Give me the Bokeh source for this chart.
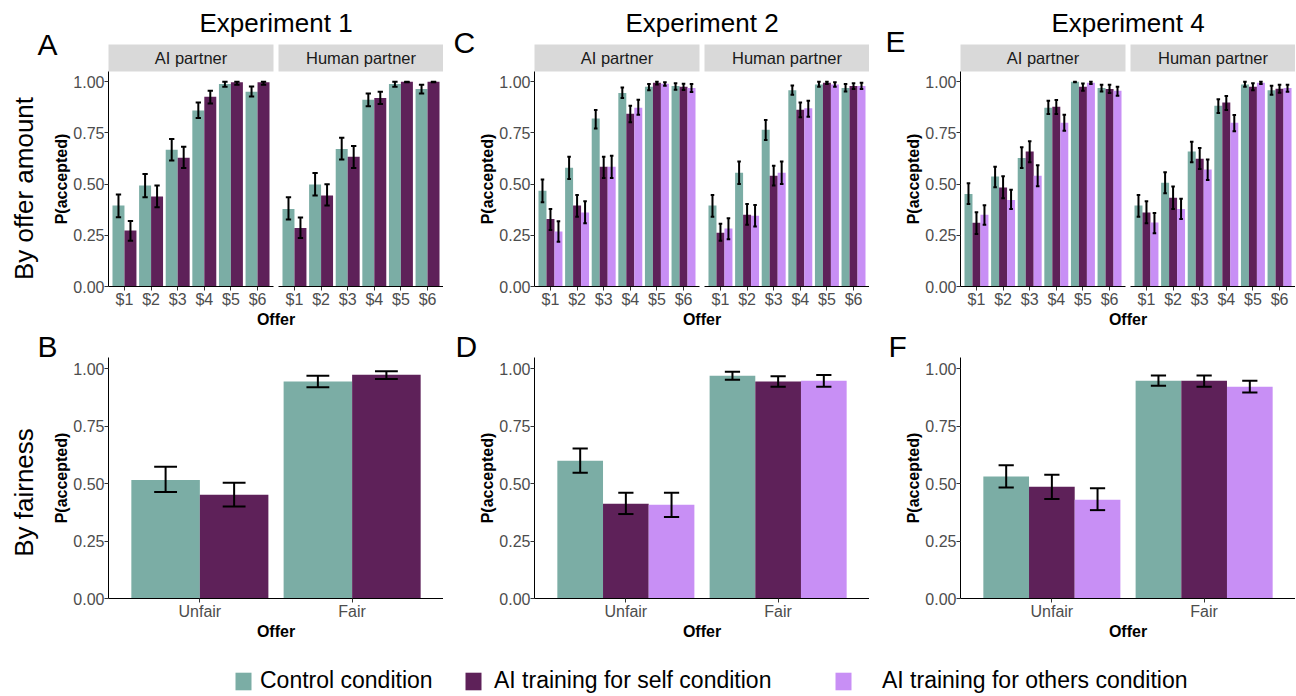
import math
from bokeh.plotting import figure
from bokeh.layouts import column, row
from bokeh.models import (FixedTicker, PrintfTickFormatter, Label, Legend, LegendItem,
                          Range1d, CustomJSTickFormatter, LinearAxis)
from bokeh.embed import file_html
from bokeh.resources import INLINE
from bokeh.core.properties import value

# ---------------- data ----------------
OFFER_LABELS = ["$1", "$2", "$3", "$4", "$5", "$6"]
PARTNERS = ["AI partner", "Human partner"]
FAIR_CATS = ["Unfair", "Fair"]
CONDITIONS = ["Control condition", "AI training for self condition", "AI training for others condition"]
COLORS = ["#7BADA5", "#5E2159", "#C88FF5"]
EXPERIMENTS = ["Experiment 1", "Experiment 2", "Experiment 4"]
TOP_LETTERS = ["A", "C", "E"]
BOTTOM_LETTERS = ["B", "D", "F"]
ROW_LABELS = ["By offer amount", "By fairness"]

# Experiment 1 (control, self)
E1_AI_MEAN = [[0.395, 0.493, 0.668, 0.859, 0.989, 0.951], [0.273, 0.439, 0.629, 0.927, 0.997, 0.997]]
E1_AI_LO = [[0.338, 0.436, 0.615, 0.823, 0.976, 0.928], [0.224, 0.387, 0.579, 0.894, 0.985, 0.985]]
E1_AI_HI = [[0.449, 0.550, 0.720, 0.899, 1.000, 0.977], [0.320, 0.493, 0.683, 0.956, 1.000, 1.000]]
E1_HU_MEAN = [[0.379, 0.498, 0.672, 0.912, 0.989, 0.964], [0.286, 0.444, 0.634, 0.920, 1.000, 1.000]]
E1_HU_LO = [[0.327, 0.444, 0.620, 0.880, 0.976, 0.943], [0.237, 0.395, 0.579, 0.891, 0.998, 0.998]]
E1_HU_HI = [[0.436, 0.554, 0.727, 0.943, 1.000, 0.985], [0.337, 0.499, 0.686, 0.951, 1.000, 1.000]]

# Experiment 2 (control, self, others)
E2_AI_MEAN = [[0.468, 0.580, 0.820, 0.945, 0.976, 0.979], [0.330, 0.395, 0.585, 0.844, 0.995, 0.976], [0.268, 0.361, 0.585, 0.873, 0.990, 0.969]]
E2_AI_LO = [[0.411, 0.525, 0.772, 0.920, 0.959, 0.961], [0.276, 0.341, 0.530, 0.802, 0.987, 0.960], [0.218, 0.309, 0.530, 0.839, 0.980, 0.950]]
E2_AI_HI = [[0.522, 0.634, 0.862, 0.972, 0.989, 0.993], [0.379, 0.447, 0.634, 0.883, 1.000, 0.990], [0.319, 0.416, 0.639, 0.912, 0.998, 0.989]]
E2_HU_MEAN = [[0.395, 0.556, 0.766, 0.959, 0.987, 0.969], [0.263, 0.351, 0.541, 0.863, 0.995, 0.979], [0.283, 0.345, 0.556, 0.870, 0.987, 0.979]]
E2_HU_LO = [[0.341, 0.500, 0.715, 0.937, 0.976, 0.952], [0.224, 0.302, 0.493, 0.826, 0.989, 0.964], [0.231, 0.293, 0.500, 0.829, 0.976, 0.964]]
E2_HU_HI = [[0.447, 0.610, 0.813, 0.982, 1.000, 0.989], [0.306, 0.403, 0.590, 0.899, 1.000, 0.993], [0.333, 0.398, 0.611, 0.907, 0.998, 0.995]]

# Experiment 4 (control, self, others)
E4_AI_MEAN = [[0.452, 0.537, 0.628, 0.873, 1.000, 0.969], [0.311, 0.483, 0.659, 0.878, 0.976, 0.964], [0.351, 0.423, 0.541, 0.800, 0.995, 0.956]]
E4_AI_LO = [[0.403, 0.485, 0.579, 0.842, 0.998, 0.952], [0.257, 0.431, 0.607, 0.842, 0.956, 0.945], [0.301, 0.379, 0.489, 0.761, 0.989, 0.932]]
E4_AI_HI = [[0.504, 0.585, 0.680, 0.907, 1.000, 0.985], [0.363, 0.538, 0.709, 0.911, 0.992, 0.985], [0.397, 0.473, 0.592, 0.839, 1.000, 0.976]]
E4_HU_MEAN = [[0.395, 0.507, 0.659, 0.883, 0.987, 0.959], [0.361, 0.434, 0.624, 0.898, 0.976, 0.966], [0.312, 0.379, 0.571, 0.800, 0.995, 0.969]]
E4_HU_LO = [[0.341, 0.455, 0.607, 0.847, 0.976, 0.937], [0.309, 0.379, 0.574, 0.862, 0.959, 0.946], [0.260, 0.330, 0.520, 0.758, 0.989, 0.951]]
E4_HU_HI = [[0.447, 0.558, 0.707, 0.915, 1.000, 0.980], [0.416, 0.488, 0.676, 0.930, 0.993, 0.985], [0.359, 0.428, 0.620, 0.837, 1.000, 0.985]]

# By fairness (Unfair, Fair) per condition
E1_FAIR_MEAN = [[0.516, 0.945], [0.452, 0.975]]
E1_FAIR_LO = [[0.464, 0.920], [0.401, 0.956]]
E1_FAIR_HI = [[0.574, 0.971], [0.504, 0.990]]
E2_FAIR_MEAN = [[0.600, 0.971], [0.413, 0.945], [0.408, 0.949]]
E2_FAIR_LO = [[0.548, 0.953], [0.368, 0.923], [0.355, 0.923]]
E2_FAIR_HI = [[0.654, 0.988], [0.461, 0.968], [0.461, 0.974]]
E4_FAIR_MEAN = [[0.531, 0.949], [0.487, 0.949], [0.430, 0.923]]
E4_FAIR_LO = [[0.484, 0.927], [0.433, 0.923], [0.385, 0.898]]
E4_FAIR_HI = [[0.581, 0.972], [0.539, 0.972], [0.480, 0.949]]

Y_TICKS = [0, 0.25, 0.5, 0.75, 1.0]

# ---------------- layout / styling ----------------
FONT = "Liberation Sans"
FACET_W = 165
GAP = 5
FRAME_W = 2 * FACET_W + GAP            # plot-panel width of one experiment
LEFT_PX = [108, 91, 91]                # space left of each experiment's y axis
LETTER_TOP_X = [-71, -81, -75]
LETTER_TOP_Y = [44, 42, 41]
LETTER_BOT_X = [-71, -79, -72]

TOP_H = 328           # top row figure height
TOP_ZERO = 286        # pixel row of y = 0 inside the top figure
TOP_PLOT_H = 215      # plotting panel (0 .. 1.05)
STRIP_H = 27
BOT_TOP = TOP_H       # page row where the bottom figures start
BOT_H = 318
BOT_ZERO = 598 - BOT_TOP
BOT_PLOT_H = 241
LEG_H = 50


def style_axes(p):
    xa, ya = p.xaxis[0], p.yaxis[0]
    for ax in (xa, ya):
        ax.axis_line_color = "black"
        ax.axis_line_width = 1
        ax.major_tick_line_color = "#333333"
        ax.major_tick_out = 4
        ax.major_tick_in = 0
        ax.minor_tick_line_color = None
        ax.major_label_text_font = FONT
        ax.major_label_text_font_size = "16px"
        ax.major_label_text_color = "#4d4d4d"
        ax.major_label_standoff = 0
        ax.axis_label_text_font = FONT
        ax.axis_label_text_font_size = "16px"
        ax.axis_label_text_font_style = "bold"
        ax.axis_label_text_color = "black"
        ax.axis_label_standoff = 0
    p.xgrid.visible = False
    p.ygrid.visible = False
    p.outline_line_color = None
    ya.ticker = FixedTicker(ticks=Y_TICKS)
    ya.formatter = PrintfTickFormatter(format="%.2f")
    ya.bounds = (0, 1.05)
    ya.fixed_location = 0.4
    xa.fixed_location = 0
    ya.axis_label = "P(accepted)"
    xa.axis_label = "Offer"
    return xa, ya


def facet_line(p, lo, hi):
    """A bare x-axis line under one facet (ggplot draws one per panel)."""
    ax = LinearAxis(fixed_location=0, bounds=(lo, hi), ticker=FixedTicker(ticks=[]),
                    axis_line_color="black", axis_line_width=1,
                    major_tick_line_color=None, minor_tick_line_color=None,
                    major_label_text_alpha=0)
    p.add_layout(ax, "below")


def draw_bars(p, xs_base, means, lo, hi, cap_total):
    n = len(means)
    bw = 0.9 / n
    cw = cap_total / n
    for c in range(n):
        off = -0.45 + bw * (c + 0.5)
        xs = [x + off for x in xs_base]
        p.vbar(x=xs, top=means[c], bottom=0, width=bw, fill_color=COLORS[c], line_color=None)
        p.segment(x0=xs, y0=lo[c], x1=xs, y1=hi[c], line_color="black", line_width=2)
        p.segment(x0=[x - cw / 2 for x in xs], y0=lo[c], x1=[x + cw / 2 for x in xs], y1=lo[c],
                  line_color="black", line_width=2)
        p.segment(x0=[x - cw / 2 for x in xs], y0=hi[c], x1=[x + cw / 2 for x in xs], y1=hi[c],
                  line_color="black", line_width=2)


def add_label(p, fig_h, x, y_from_top, text, size, angle=0.0, align="left"):
    p.add_layout(Label(x=x, y=fig_h - y_from_top, x_units="screen", y_units="screen", text=text,
                       angle=angle, text_font=FONT, text_font_size=size, text_color="black",
                       text_align=align, text_baseline="middle"))


def new_fig(width, height, x_range, y_range):
    return figure(width=width, height=height, x_range=x_range, y_range=y_range,
                  output_backend="svg", toolbar_location=None,
                  min_border_left=0, min_border_right=0, min_border_top=0, min_border_bottom=0)


def top_fig(k, ai_m, ai_lo, ai_hi, hu_m, hu_lo, hu_hi):
    lb = LEFT_PX[k]
    unit = FACET_W / 6.2
    shift = (FACET_W + GAP) / unit
    x_start = 0.4 - lb / unit
    x_end = 0.4 + FRAME_W / unit
    ppu = TOP_PLOT_H / 1.05
    p = new_fig(lb + FRAME_W, TOP_H, Range1d(x_start, x_end),
                Range1d(-(TOP_H - TOP_ZERO) / ppu, TOP_ZERO / ppu))
    xa, ya = style_axes(p)
    xa.bounds = (0.4, x_end)
    xa.axis_line_color = None
    strip_top = 1.05 + STRIP_H / ppu
    # facet strips
    p.quad(left=[0.4, 0.4 + shift], right=[6.6, 6.6 + shift], bottom=1.05, top=strip_top,
           fill_color="#d9d9d9", line_color=None)
    p.text(x=[3.5, 3.5 + shift], y=[(1.05 + strip_top) / 2] * 2, text=PARTNERS, text_align="center",
           text_baseline="middle", text_font=value(FONT), text_font_size="16.5px", text_color="#1a1a1a")
    base = list(range(1, 7))
    draw_bars(p, base, ai_m, ai_lo, ai_hi, 0.4)
    draw_bars(p, [b + shift for b in base], hu_m, hu_lo, hu_hi, 0.4)
    xa.ticker = FixedTicker(ticks=base + [b + shift for b in base])
    xa.formatter = CustomJSTickFormatter(args=dict(labels=OFFER_LABELS, shift=shift), code="""
        const k = tick > 6.7 ? Math.round(tick - shift) : Math.round(tick);
        return labels[k - 1];
    """)
    facet_line(p, 0.4, 6.6)
    facet_line(p, 0.4 + shift, 6.6 + shift)
    # experiment title, panel letter, row label
    add_label(p, TOP_H, lb + FRAME_W / 2, 22, EXPERIMENTS[k], "26px", align="center")
    add_label(p, TOP_H, lb + LETTER_TOP_X[k], LETTER_TOP_Y[k], TOP_LETTERS[k], "30px")
    if k == 0:
        add_label(p, TOP_H, 23, 188, ROW_LABELS[0], "26px", angle=math.pi / 2, align="center")
    return p


def bottom_fig(k, m, lo, hi):
    lb = LEFT_PX[k]
    unit = FRAME_W / 2.2
    x_start = 0.4 - lb / unit
    ppu = BOT_PLOT_H / 1.05
    p = new_fig(lb + FRAME_W, BOT_H, Range1d(x_start, 2.6),
                Range1d(-(BOT_H - BOT_ZERO) / ppu, BOT_ZERO / ppu))
    xa, ya = style_axes(p)
    xa.bounds = (0.4, 2.6)
    draw_bars(p, [1, 2], m, lo, hi, 0.3)
    xa.ticker = FixedTicker(ticks=[1, 2])
    xa.major_label_overrides = {i + 1: lab for i, lab in enumerate(FAIR_CATS)}
    add_label(p, BOT_H, lb + LETTER_BOT_X[k], 346 - BOT_TOP, BOTTOM_LETTERS[k], "30px")
    if k == 0:
        add_label(p, BOT_H, 23, 492 - BOT_TOP, ROW_LABELS[1], "26px", angle=math.pi / 2, align="center")
    return p


tops = [
    top_fig(0, E1_AI_MEAN, E1_AI_LO, E1_AI_HI, E1_HU_MEAN, E1_HU_LO, E1_HU_HI),
    top_fig(1, E2_AI_MEAN, E2_AI_LO, E2_AI_HI, E2_HU_MEAN, E2_HU_LO, E2_HU_HI),
    top_fig(2, E4_AI_MEAN, E4_AI_LO, E4_AI_HI, E4_HU_MEAN, E4_HU_LO, E4_HU_HI),
]
bottoms = [
    bottom_fig(0, E1_FAIR_MEAN, E1_FAIR_LO, E1_FAIR_HI),
    bottom_fig(1, E2_FAIR_MEAN, E2_FAIR_LO, E2_FAIR_HI),
    bottom_fig(2, E4_FAIR_MEAN, E4_FAIR_LO, E4_FAIR_HI),
]

# ---------------- legend strip ----------------
TOTAL_W = sum(LEFT_PX) + 3 * FRAME_W
leg = figure(width=TOTAL_W, height=LEG_H, x_range=Range1d(0, 1), y_range=Range1d(0, 1),
             output_backend="svg", toolbar_location=None, x_axis_type=None, y_axis_type=None,
             min_border_left=0, min_border_right=0, min_border_top=0, min_border_bottom=0)
leg.xgrid.visible = False
leg.ygrid.visible = False
leg.outline_line_color = None
LEG_X = [233, 463, 833]
LEG_STANDOFF = [7, 11, 29]
for i, cond in enumerate(CONDITIONS):
    r = leg.quad(left=[2], right=[3], bottom=[2], top=[3], fill_color=COLORS[i], line_color=None)
    lg = Legend(items=[LegendItem(label=cond, renderers=[r])], location=(LEG_X[i], 2),
                orientation="horizontal", glyph_width=20, glyph_height=22,
                label_text_font=FONT, label_text_font_size="23px", label_text_color="black",
                label_standoff=LEG_STANDOFF[i], padding=0, margin=0, border_line_color=None,
                background_fill_alpha=0)
    leg.add_layout(lg)

layout = column(row(*tops), row(*bottoms), leg)

with open("out.html", "w") as f:
    f.write(file_html(layout, INLINE))
